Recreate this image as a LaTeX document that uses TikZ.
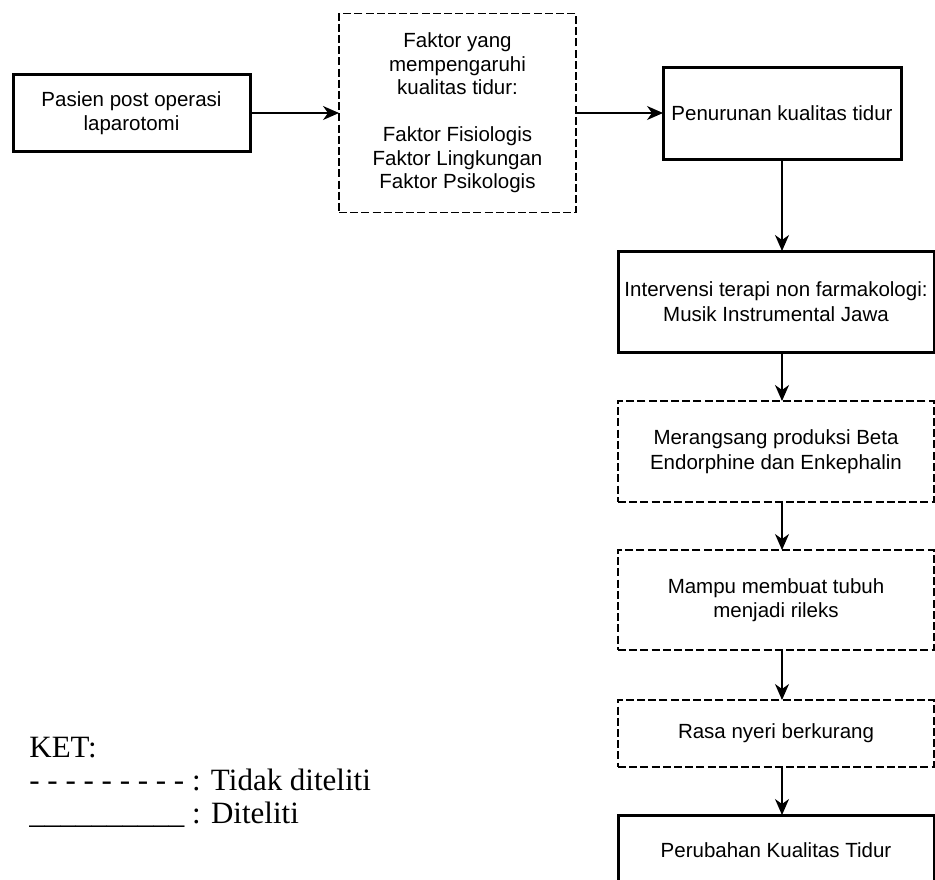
\documentclass[tikz,border=0pt]{standalone}
\usepackage{fontspec}
\setmainfont{Liberation Serif}
\setsansfont{Liberation Sans}
\usetikzlibrary{positioning, arrows.meta}

\begin{document}
\begin{tikzpicture}[
    node distance=24pt and 44pt,
    box/.style={draw, line width=1.5pt, outer sep=0pt, inner sep=2pt, align=center,
                font=\sffamily\fontsize{10.25}{12.25}\selectfont},
    dbox/.style={box, line width=0.75pt, dash pattern=on 4pt off 1.6pt},
    arr/.style={-{Stealth[length=8pt, width=7pt, inset=2.5pt]}, line width=0.7pt},
    ket/.style={anchor=west, inner sep=0pt, font=\fontsize{15.5}{18}\selectfont},
]
    \useasboundingbox (0,0) rectangle (467.5pt,-439.5pt);

    % baris atas
    \node[box, minimum width=118.5pt, minimum height=38.5pt] (pasien) at (65.75pt,-56.5pt)
        {Pasien post operasi\\laparotomi};
    \node[dbox, right=44.5pt of pasien, minimum width=118.5pt, minimum height=99.5pt,
          font=\sffamily\fontsize{10.25}{11.75}\selectfont] (faktor) {
        Faktor yang\\
        mempengaruhi\\
        kualitas tidur:\\[11.75pt]
        Faktor Fisiologis\\
        Faktor Lingkungan\\
        Faktor Psikologis
    };
    \node[box, right=43.5pt of faktor, minimum width=119pt, minimum height=46pt] (penurunan)
        {Penurunan kualitas tidur};

    % kolom kanan
    \node[box, below=46pt of penurunan, xshift=-3pt, minimum width=158pt, minimum height=50.5pt] (intervensi)
        {Intervensi terapi non farmakologi:\\Musik Instrumental Jawa};
    \node[dbox, below=24.5pt of intervensi, minimum width=158pt, minimum height=50.5pt] (merangsang)
        {Merangsang produksi Beta\\Endorphine dan Enkephalin};
    \node[dbox, below=24pt of merangsang, minimum width=158pt, minimum height=50pt] (mampu)
        {Mampu membuat tubuh\\menjadi rileks};
    \node[dbox, below=25pt of mampu, minimum width=158pt, minimum height=33.5pt] (rasa)
        {Rasa nyeri berkurang};
    \node[box, below=24pt of rasa, minimum width=158pt, minimum height=35pt] (perubahan)
        {Perubahan Kualitas Tidur};

    \draw[arr] (pasien) -- (faktor);
    \draw[arr] (faktor) -- (penurunan);
    \draw[arr] (penurunan.south) -- (intervensi.north -| penurunan);
    \draw[arr] (intervensi.south -| penurunan) -- (merangsang.north -| penurunan);
    \draw[arr] (merangsang.south -| penurunan) -- (mampu.north -| penurunan);
    \draw[arr] (mampu.south -| penurunan) -- (rasa.north -| penurunan);
    \draw[arr] (rasa.south -| penurunan) -- (perubahan.north -| penurunan);

    % keterangan
    \node[ket] (ket) at (14.5pt,-374pt) {KET:};
    \node[ket, below=5pt of ket.south west, anchor=north west] (tidak) {- - - - - - - - - : Tidak diteliti};
    \node[ket, below=5pt of tidak.south west, anchor=north west] (diteliti) {\_\_\_\_\_\_\_\_\_\_ : Diteliti};
\end{tikzpicture}
\end{document}
